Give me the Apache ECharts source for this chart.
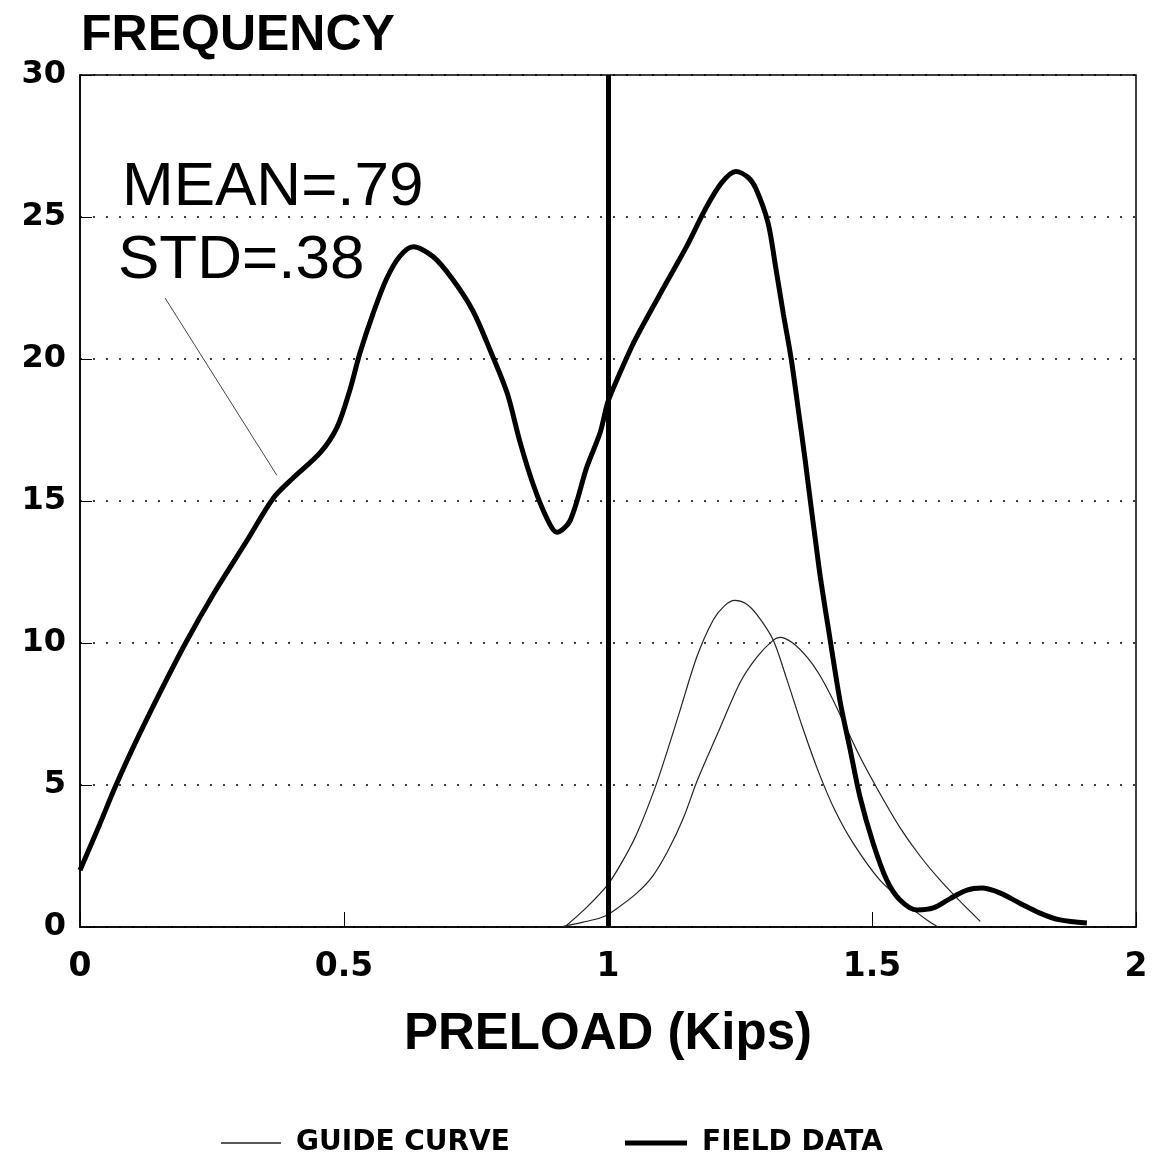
<!DOCTYPE html>
<html>
<head>
<meta charset="utf-8">
<script src="https://cdn.jsdelivr.net/npm/echarts@6/dist/echarts.min.js"></script>
<style>
  html, body { margin: 0; padding: 0; background: #fff; }
  #chart { width: 1159px; height: 1176px; }
</style>
</head>
<body>
<div id="chart"></div>
<script>
// 读图得到的数据 (x = PRELOAD kips, y = FREQUENCY)
var fieldX = [0, 0.037, 0.066, 0.1, 0.15, 0.2, 0.252, 0.316, 0.366, 0.403, 0.455, 0.487, 0.511, 0.53, 0.555, 0.58, 0.605, 0.631, 0.669, 0.706, 0.744, 0.777, 0.809, 0.833, 0.858, 0.884, 0.903, 0.928, 0.96, 0.985, 1.0, 1.02, 1.052, 1.111, 1.15, 1.185, 1.215, 1.242, 1.265, 1.28, 1.303, 1.317, 1.332, 1.347, 1.362, 1.373, 1.40, 1.42, 1.44, 1.458, 1.477, 1.502, 1.528, 1.553, 1.585, 1.616, 1.648, 1.68, 1.708, 1.742, 1.78, 1.818, 1.856, 1.907];
var fieldY = [2.0, 3.6, 4.9, 6.3, 8.2, 10.0, 11.7, 13.6, 15.1, 15.8, 16.7, 17.6, 18.9, 20.2, 21.6, 22.8, 23.6, 23.95, 23.6, 22.8, 21.7, 20.3, 18.8, 17.1, 15.6, 14.4, 13.9, 14.3, 16.2, 17.4, 18.5, 19.4, 20.7, 22.7, 24.0, 25.3, 26.2, 26.6, 26.4, 26.0, 24.8, 23.3, 21.6, 20.0, 18.0, 16.5, 12.6, 10.2, 7.9, 6.3, 4.6, 2.96, 1.65, 0.95, 0.6, 0.67, 1.0, 1.3, 1.37, 1.2, 0.84, 0.49, 0.25, 0.14];

var guideAX = [0.918, 0.96, 1.0, 1.03, 1.055, 1.089, 1.114, 1.136, 1.168, 1.199, 1.22, 1.24, 1.26, 1.282, 1.313, 1.339, 1.369, 1.40, 1.43, 1.464, 1.515, 1.572, 1.604, 1.625];
var guideAY = [0, 0.7, 1.5, 2.4, 3.3, 4.9, 6.3, 7.6, 9.5, 10.8, 11.3, 11.5, 11.4, 11.0, 10.1, 8.7, 7.0, 5.4, 4.1, 2.96, 1.65, 0.7, 0.25, 0];

var guideBX = [0.91, 0.953, 0.99, 1.013, 1.055, 1.085, 1.114, 1.142, 1.17, 1.212, 1.25, 1.282, 1.313, 1.326, 1.35, 1.377, 1.40, 1.426, 1.477, 1.515, 1.553, 1.591, 1.629, 1.667, 1.705];
var guideBY = [0, 0.17, 0.35, 0.6, 1.2, 1.8, 2.7, 3.8, 5.2, 7.0, 8.6, 9.5, 10.1, 10.2, 10.0, 9.5, 8.9, 8.0, 6.0, 4.7, 3.5, 2.5, 1.65, 0.9, 0.2];

var leaderX = [0.161, 0.373];
var leaderY = [22.15, 15.9];

var limitX = 1.0;
var statsText = ['MEAN=.79', 'STD=.38'];

function pairs(xs, ys) {
    var out = [];
    for (var i = 0; i < xs.length; i++) out.push([xs[i], ys[i]]);
    return out;
}

var legendText = { fontFamily: 'DejaVu Sans', fontWeight: 'bold', fontSize: 28, color: '#000', padding: [0, 0, 0, 10] };

var myChart = echarts.init(document.getElementById('chart'));
var option = {
    backgroundColor: '#fff',
    animation: false,
    title: {
        text: 'FREQUENCY',
        left: 76,
        top: 6,
        textStyle: { fontFamily: 'Liberation Sans', fontSize: 50, fontWeight: 'bold', color: '#000' }
    },
    grid: {
        left: 80, right: 23, top: 75, bottom: 249,
        show: true, borderColor: '#000', borderWidth: 1.5
    },
    legend: [
        {
            data: ['GUIDE CURVE'],
            left: 216, top: 1124,
            icon: 'rect', itemWidth: 60, itemHeight: 1.5,
            selectedMode: false,
            textStyle: legendText
        },
        {
            data: ['FIELD DATA'],
            left: 620, top: 1124,
            icon: 'rect', itemWidth: 62, itemHeight: 5,
            selectedMode: false,
            textStyle: legendText
        }
    ],
    xAxis: {
        type: 'value',
        min: 0, max: 2, interval: 0.5,
        name: 'PRELOAD (Kips)',
        nameLocation: 'middle',
        nameGap: 82,
        nameTextStyle: { fontFamily: 'Liberation Sans', fontSize: 51, fontWeight: 'bold', color: '#000' },
        axisLine: { lineStyle: { color: '#000', width: 1.5 } },
        axisTick: { inside: true, length: 15, lineStyle: { color: '#000' } },
        axisLabel: { margin: 24, fontFamily: 'DejaVu Sans', fontWeight: 'bold', fontSize: 33, color: '#000' },
        splitLine: { show: false }
    },
    yAxis: {
        type: 'value',
        min: 0, max: 30, interval: 5,
        axisLine: { show: true, lineStyle: { color: '#000', width: 1.5 } },
        axisTick: { show: true, inside: true, length: 12, lineStyle: { color: '#000' } },
        axisLabel: { margin: 14, fontFamily: 'DejaVu Sans', fontWeight: 'bold', fontSize: 32, color: '#000' },
        splitLine: { show: true, lineStyle: { color: '#000', width: 1.5, type: [2, 11] } }
    },
    graphic: [
        { type: 'text', left: 122, top: 157, style: { text: statsText[0], fontFamily: 'Liberation Sans', fontSize: 62, fill: '#000' } },
        { type: 'text', left: 118, top: 230, style: { text: statsText[1], fontFamily: 'Liberation Sans', fontSize: 62, fill: '#000' } }
    ],
    series: [
        {
            name: 'GUIDE CURVE',
            type: 'line',
            data: pairs(guideAX, guideAY),
            smooth: 0.3,
            symbol: 'none',
            lineStyle: { color: '#222', width: 1.2 },
            itemStyle: { color: '#222' }
        },
        {
            name: 'GUIDE CURVE',
            type: 'line',
            data: pairs(guideBX, guideBY),
            smooth: 0.3,
            symbol: 'none',
            lineStyle: { color: '#222', width: 1.2 },
            itemStyle: { color: '#222' }
        },
        {
            name: 'leader',
            type: 'line',
            data: pairs(leaderX, leaderY),
            symbol: 'none',
            lineStyle: { color: '#444', width: 1 },
            silent: true
        },
        {
            name: 'FIELD DATA',
            type: 'line',
            data: pairs(fieldX, fieldY),
            smooth: 0.3,
            symbol: 'none',
            lineStyle: { color: '#000', width: 5 },
            itemStyle: { color: '#000' },
            markLine: {
                silent: true,
                symbol: 'none',
                label: { show: false },
                lineStyle: { color: '#000', width: 5, type: 'solid' },
                data: [{ xAxis: limitX }]
            }
        }
    ]
};
myChart.setOption(option);
</script>
</body>
</html>
